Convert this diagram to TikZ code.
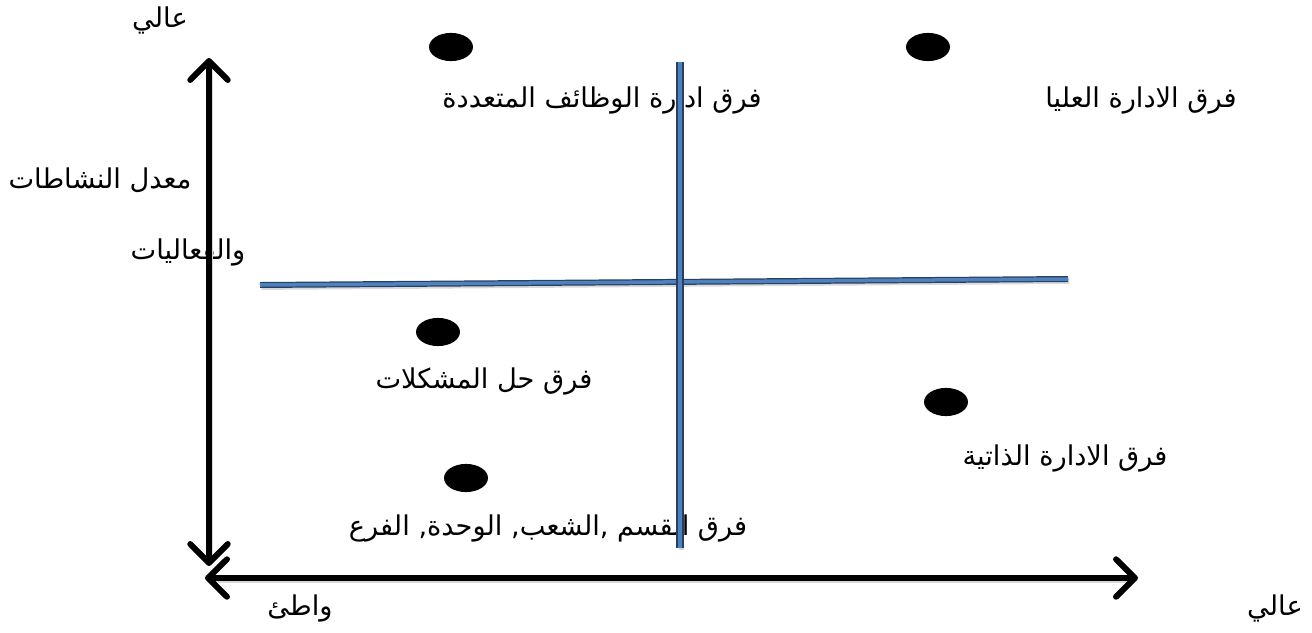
\documentclass[tikz,border=0pt]{standalone}
\usepackage{fontspec}
\newfontfamily\arabicfont[Script=Arabic]{DejaVu Sans}
\TeXXeTstate=1
\usetikzlibrary{arrows.meta,shapes.geometric}
\definecolor{barblue}{RGB}{79,129,189}
\definecolor{bardark}{RGB}{38,64,99}
\newcommand{\artxt}[1]{{\arabicfont\beginR #1\endR}}
\tikzset{
  axisline/.style = {{Straight Barb[length=3.8mm,width=7.5mm,round]}-{Straight Barb[length=3.8mm,width=7.5mm,round]},
                     line width=3.4pt,
                     preaction={-, draw=black!15, line width=3.4pt, shorten <=1mm, shorten >=1mm,
                                transform canvas={shift={(0.8pt,-1.2pt)}}}},
  bar/.style      = {draw=bardark, double=barblue, double distance=2pt, line width=0.7pt,
                     preaction={draw=black!15, line width=3.2pt,
                                transform canvas={shift={(0.8pt,-1.2pt)}}}},
  dot/.style      = {ellipse, fill=black, minimum width=25pt, minimum height=16pt, inner sep=0pt},
  lbl/.style      = {font=\fontsize{15.5}{18}\selectfont, inner sep=1pt},
}

\begin{document}
\begin{tikzpicture}[x=0.2mm, y=-0.2mm]
\useasboundingbox (0,0) rectangle (1312,633);

% group labels
\node[lbl] (lmulti) at (602,100) {\artxt{فرق ادارة الوظائف المتعددة}};
\node[lbl] (ltop)   at (1141,100) {\artxt{فرق الادارة العليا}};
\node[lbl] (lprob)  at (484,381) {\artxt{فرق حل المشكلات}};
\node[lbl] (lself)  at (1065,458) {\artxt{فرق الادارة الذاتية}};
\node[lbl] (ldept)  at (548,528) {\artxt{فرق القسم ,الشعب, الوحدة, الفرع}};

% axis labels
\node[lbl] (yhigh)  at (160,20)  {\artxt{عالي}};
\node[lbl] (ytitA)  at (100,180) {\artxt{معدل النشاطات}};
\node[lbl] (ytitB)  at (188,252) {\artxt{والفعاليات}};
\node[lbl] (xlow)   at (300,608) {\artxt{واطئ}};
\node[lbl] (xhigh)  at (1275,608) {\artxt{عالي}};

\foreach \n/\x/\y in {dmulti/451/47, dtop/928/47, dprob/438/332, dself/946/402, ddept/466/478}{
  \node[dot] (\n) at (\x,\y) {};}

% quadrant lines
\coordinate (hl) at (260,285);
\coordinate (hr) at (1068,279);
\coordinate (vt) at (680,62);
\coordinate (vb) at (680,548);
\draw[bar] (hl) -- (hr);
\draw[bar, double distance=2.6pt, line width=0.9pt] (vt) -- (vb);

% axes
\coordinate (ytop) at (209,58);
\coordinate (ybot) at (209,566);
\coordinate (xleft) at (205,578);
\coordinate (xright) at (1138,578);
\draw[axisline] (ybot) -- (ytop);
\draw[axisline] (xleft) -- (xright);
\end{tikzpicture}
\end{document}
